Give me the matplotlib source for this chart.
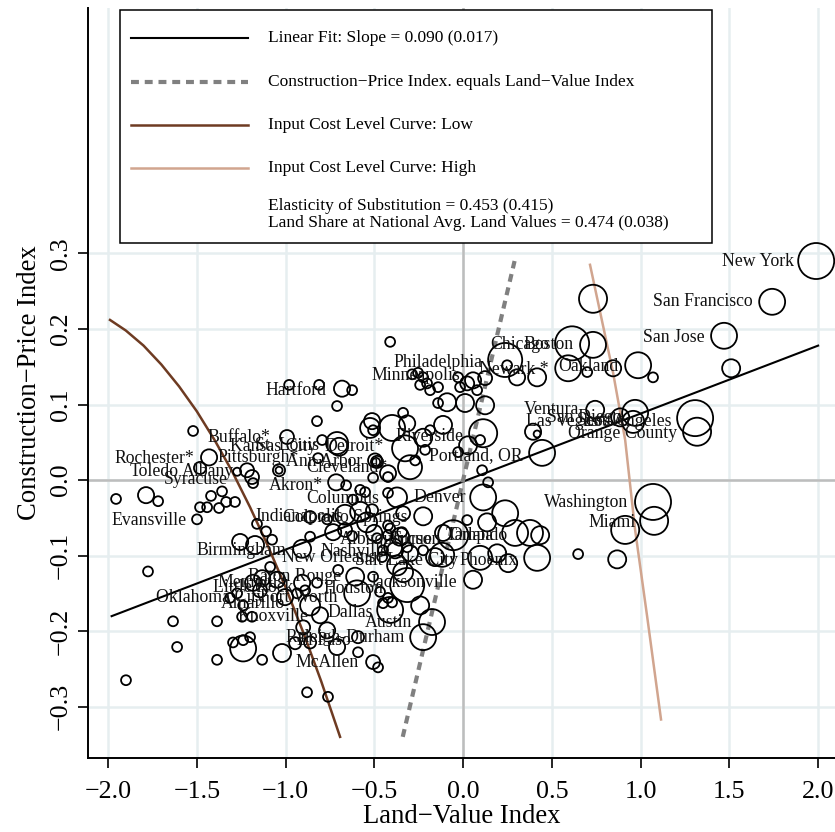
import matplotlib
matplotlib.use("Agg")
import matplotlib.pyplot as plt
import numpy as np
from matplotlib.patches import Rectangle
from matplotlib.lines import Line2D

plt.rcParams.update({
    "font.family": ["Liberation Serif", "DejaVu Serif"],
    "axes.unicode_minus": True,
})

LOW_C, HIGH_C, GRID_C, ZERO_C = "#6E3B22", "#D1A58F", "#E6EEF0", "#BDBDBD"

# ── metro areas: land-value index, construction-price index, population weight ──
land = [
    -1.955, -1.786, -1.718, -1.775, -1.634, -1.611, -1.899, -1.521, -1.499, -1.482,
    -1.482, -1.442, -1.420, -1.358, -1.335, -1.285, -1.375, -1.431, -1.386, -1.386,
    -1.273, -1.217, -1.189, -1.183, -1.037, -1.037, -0.992, -0.980, -0.811, -0.682,
    -0.625, -0.710, -0.823, -0.794, -0.710, -0.699, -0.513, -0.507, -0.715, -0.659,
    -0.496, -0.490, -0.507, -0.423, -0.620, -0.580, -0.552, -0.423, -0.372, -0.423,
    -0.862, -0.766, -0.665, -0.580, -0.513, -0.338, -0.862, -0.732, -0.665, -0.625,
    -0.541, -0.501, -0.423, -0.355, -0.411, -0.485, -0.344, -1.256, -1.172, -1.161,
    -1.110, -1.076, -0.907, -1.087, -1.183, -1.132, -1.048, -1.144, -1.273, -1.313,
    -1.239, -1.245, -1.189, -1.003, -0.935, -0.890, -0.907, -0.823, -0.862, -0.806,
    -0.901, -0.766, -0.704, -0.608, -1.296, -1.239, -1.200, -1.239, -1.132, -1.020,
    -0.946, -0.862, -0.710, -0.592, -0.592, -0.879, -0.761, -0.507, -0.479, -0.451,
    -0.394, -0.315, -0.372, -0.338, -0.507, -0.468, -0.451, -0.597, -0.423, -0.315,
    -0.400, -0.411, -0.242, -0.175, -0.225, -0.383, -0.299, -0.456, -0.225, -0.118,
    -0.056, 0.096, 0.056, 0.192, 0.254, 0.417, 0.434, 0.377, 0.293, 0.135,
    0.023, 0.237, 0.113, -0.225, -0.113, -0.158, -0.411, -0.287, -0.254, -0.225,
    -0.203, -0.242, -0.186, -0.141, -0.028, -0.017, 0.023, 0.056, 0.079, 0.124,
    0.237, 0.248, 0.304, 0.417, -0.141, -0.090, 0.011, 0.124, -0.338, -0.315,
    -0.400, -0.524, -0.186, -0.113, -0.225, -0.327, -0.214, -0.270, -0.299, -0.485,
    -0.423, 0.113, 0.096, 0.028, -0.028, 0.107, 0.141, 0.417, 0.445, 0.732,
    1.989, 1.741, 1.470, 1.510, 0.614, 0.732, 0.592, 0.699, 0.845, 0.986,
    1.070, 0.744, 0.885, 0.969, 0.958, 1.307, 1.318, 0.394, 1.070, 1.076,
    0.913, 0.648, 0.868, -0.817,
]
price = [
    -0.025, -0.020, -0.028, -0.121, -0.187, -0.221, -0.265, 0.065, -0.052, 0.016,
    -0.036, -0.036, -0.021, -0.015, -0.029, -0.029, -0.037, 0.030, -0.187, -0.238,
    0.011, 0.013, 0.004, -0.004, 0.013, 0.013, 0.057, 0.126, 0.126, 0.121,
    0.119, 0.098, 0.078, 0.053, 0.049, 0.044, 0.078, 0.066, -0.003, -0.007,
    0.026, 0.024, 0.003, 0.004, -0.026, -0.013, -0.016, -0.017, -0.023, -0.060,
    -0.049, -0.052, -0.046, -0.042, -0.040, -0.044, -0.075, -0.069, -0.066, -0.074,
    -0.056, -0.070, -0.073, -0.075, -0.064, -0.077, -0.069, -0.082, -0.086, -0.058,
    -0.068, -0.079, -0.091, -0.115, -0.136, -0.130, -0.132, -0.146, -0.150, -0.156,
    -0.166, -0.181, -0.181, -0.155, -0.150, -0.146, -0.136, -0.136, -0.166, -0.179,
    -0.195, -0.199, -0.119, -0.128, -0.215, -0.212, -0.208, -0.223, -0.238, -0.229,
    -0.216, -0.215, -0.221, -0.228, -0.208, -0.281, -0.287, -0.241, -0.248, -0.093,
    -0.089, -0.089, -0.113, -0.122, -0.128, -0.148, -0.163, -0.150, -0.156, -0.139,
    -0.162, -0.172, -0.166, -0.188, -0.208, -0.093, -0.097, -0.102, -0.093, -0.099,
    -0.073, -0.103, -0.132, -0.097, -0.110, -0.103, -0.073, -0.070, -0.070, -0.056,
    -0.053, -0.044, -0.023, -0.048, -0.070, -0.102, 0.183, 0.140, 0.142, 0.136,
    0.128, 0.126, 0.119, 0.123, 0.136, 0.123, 0.128, 0.132, 0.119, 0.135,
    0.159, 0.152, 0.136, 0.136, 0.102, 0.103, 0.102, 0.099, 0.089, 0.075,
    0.069, 0.069, 0.066, 0.073, 0.056, 0.042, 0.040, 0.026, 0.017, 0.024,
    0.009, 0.062, 0.053, 0.046, 0.037, 0.013, -0.003, 0.061, 0.036, 0.240,
    0.290, 0.236, 0.191, 0.148, 0.181, 0.179, 0.148, 0.143, 0.148, 0.152,
    0.136, 0.093, 0.083, 0.089, 0.077, 0.082, 0.064, 0.064, -0.029, -0.054,
    -0.066, -0.098, -0.105, 0.029,
]
pop = [
    1.2, 3.2, 1.2, 1.2, 1.2, 1.2, 1.2, 1.2, 1.2, 1.8,
    1.2, 1.2, 1.2, 1.2, 1.2, 1.2, 1.2, 3.2, 1.2, 1.2,
    0.8, 2.4, 2.4, 1.2, 1.8, 0.6, 2.4, 1.2, 1.2, 3.2,
    1.2, 1.2, 1.2, 1.2, 6.0, 4.0, 3.2, 1.2, 3.2, 1.2,
    2.4, 0.8, 1.2, 1.2, 1.2, 1.2, 1.2, 1.2, 4.9, 1.2,
    1.8, 1.2, 4.9, 4.9, 1.8, 2.4, 1.2, 3.2, 2.4, 1.2,
    4.9, 3.2, 1.2, 4.0, 1.2, 1.2, 1.2, 3.2, 4.0, 1.2,
    1.2, 1.2, 4.0, 1.2, 3.2, 3.2, 3.2, 2.4, 1.2, 1.2,
    1.2, 1.2, 1.2, 3.2, 1.2, 1.2, 3.2, 1.2, 4.9, 3.2,
    2.4, 3.2, 1.2, 4.0, 1.2, 1.2, 1.2, 8.3, 1.2, 4.0,
    1.8, 1.8, 3.2, 1.2, 1.8, 1.2, 1.2, 2.4, 1.2, 1.2,
    4.0, 1.2, 4.9, 4.9, 1.2, 1.2, 1.2, 8.3, 1.2, 14.3,
    1.2, 8.3, 4.0, 8.3, 8.3, 3.2, 3.2, 1.2, 1.2, 7.1,
    11.1, 7.1, 4.0, 4.0, 4.0, 8.3, 4.0, 8.3, 8.3, 4.0,
    1.2, 8.3, 8.3, 4.0, 3.2, 4.0, 1.2, 1.2, 1.2, 1.2,
    1.2, 1.2, 1.2, 1.2, 1.2, 1.2, 2.4, 3.2, 1.2, 2.4,
    14.3, 1.2, 3.2, 4.0, 1.2, 4.0, 4.0, 4.0, 1.2, 3.2,
    8.3, 4.9, 1.2, 4.0, 4.0, 8.3, 1.2, 1.2, 7.1, 1.8,
    3.2, 9.7, 1.2, 4.0, 1.2, 1.2, 1.2, 0.6, 8.3, 9.7,
    16.0, 8.3, 8.3, 4.0, 14.3, 8.3, 8.3, 1.2, 3.2, 8.3,
    1.2, 4.0, 4.0, 8.3, 6.0, 16.0, 9.7, 3.2, 16.0, 9.7,
    9.7, 1.2, 4.0, 1.2,
]

# ── labelled metro areas ──
lab_names = [
    "New York", "San Francisco", "San Jose", "Chicago", "Boston", "Philadelphia",
    "Newark *", "Oakland", "Minneapolis", "Hartford", "Ventura", "Las Vegas",
    "San Diego", "Seattle", "Los Angeles", "Orange County", "Riverside", "Portland, OR",
    "Buffalo*", "Kansas City", "St. Louis", "Detroit*", "Pittsburgh*", "Ann Arbor",
    "Cleveland*", "Rochester*", "Toledo", "Albany", "Syracuse", "Akron*",
    "Evansville", "Columbus", "Indianapolis", "Colorado Springs", "Denver", "Birmingham",
    "New Orleans", "Nashville", "Albuquerque", "Tucson", "Orlando", "Tampa",
    "Salt Lake City", "Phoenix", "Jacksonville", "Houston", "Baton Rouge", "Memphis",
    "Little Rock", "Fort Worth", "Oklahoma City", "Amarillo", "Knoxville", "Dallas",
    "Austin", "Raleigh-Durham", "El Paso", "McAllen", "Washington", "Miami",
]
lab_x = [
    1.972, 1.741, 1.470, 0.592, 0.732, 0.220,
    0.592, 0.986, 0.096, -0.659, 0.761, 0.873,
    1.003, 1.025, 1.285, 1.318, 0.113, 0.445,
    -0.975, -0.715, -0.704, -0.338, -0.817, -0.456,
    -0.315, -1.403, -1.493, -1.183, -1.217, -0.682,
    -1.448, -0.366, -0.569, -0.203, 0.124, -0.885,
    -0.383, -0.310, -0.062, -0.017, 0.361, 0.282,
    0.079, 0.417, 0.079, -0.338, -0.580, -0.896,
    -0.845, -0.597, -1.003, -0.896, -0.761, -0.400,
    -0.175, -0.220, -0.524, -0.479, 1.042, 1.082,
]
lab_y = [
    0.289, 0.236, 0.189, 0.179, 0.179, 0.156,
    0.146, 0.150, 0.138, 0.118, 0.093, 0.078,
    0.083, 0.079, 0.078, 0.062, 0.058, 0.032,
    0.056, 0.044, 0.046, 0.045, 0.030, 0.025,
    0.017, 0.028, 0.011, 0.011, 0.001, -0.007,
    -0.053, -0.025, -0.048, -0.049, -0.023, -0.093,
    -0.103, -0.095, -0.079, -0.079, -0.073, -0.073,
    -0.106, -0.106, -0.135, -0.143, -0.128, -0.135,
    -0.142, -0.155, -0.156, -0.163, -0.181, -0.175,
    -0.189, -0.209, -0.212, -0.241, -0.030, -0.056,
]

# ── fitted line and model curves ──
fit_slope, fit_icpt = 0.090, -0.002
fit_range = [-1.98, 2.0]
equal_range = [-0.34, 0.29]
low_x = [-1.989, -1.9, -1.8, -1.7, -1.6, -1.5, -1.4, -1.3, -1.2, -1.1, -1.0, -0.9, -0.8, -0.693]
low_y = [0.212, 0.198, 0.178, 0.153, 0.124, 0.091, 0.053, 0.011, -0.036, -0.087,
         -0.142, -0.202, -0.266, -0.340]
high_x = [0.715, 0.845, 0.913, 0.969, 1.037, 1.115]
high_y = [0.285, 0.142, 0.053, -0.066, -0.181, -0.317]

fig = plt.figure(figsize=(8.35, 8.32), dpi=100)
ax = fig.add_axes([88 / 835, 74 / 832, 747 / 835, 750 / 832])
ax.set_xlim(-2.113, 2.095)
ax.set_ylim(-0.368, 0.625)

xt = np.arange(-2.0, 2.01, 0.5)
yt = np.arange(-0.3, 0.31, 0.1)
for v in xt:
    ax.axvline(v, color=GRID_C, lw=1.8, zorder=0)
for v in yt:
    ax.axhline(v, color=GRID_C, lw=1.8, zorder=0)
ax.axvline(0, color=ZERO_C, lw=1.8, zorder=1)
ax.axhline(0, color=ZERO_C, lw=1.8, zorder=1)

fx = np.array(fit_range)
ax.plot(fx, fit_icpt + fit_slope * fx, color="black", lw=1.5, zorder=3)
ax.plot(equal_range, equal_range, color="#808080", lw=3.0,
        linestyle=(0, (1.9, 1.4)), dash_capstyle="butt", zorder=3)
ax.plot(low_x, low_y, color=LOW_C, lw=1.8, zorder=3)
ax.plot(high_x, high_y, color=HIGH_C, lw=1.8, zorder=3)

ax.scatter(land, price, s=42 * np.array(pop), facecolors="none",
           edgecolors="black", linewidths=1.3, zorder=4)

for name, x, y in zip(lab_names, lab_x, lab_y):
    ax.annotate(name, (x, y), xytext=(-14, 0), textcoords="offset points",
                ha="right", va="center", fontsize=12.8, color="#111111", zorder=5)

# axes styling (R-like L box)
for side in ("top", "right"):
    ax.spines[side].set_visible(False)
for side in ("left", "bottom"):
    ax.spines[side].set_linewidth(1.4)
ax.set_xticks(xt)
ax.set_xticklabels([f"{v:.1f}".replace("-", "\u2212") for v in np.round(xt, 1)], fontsize=18.7)
ax.set_yticks(yt)
ax.set_yticklabels([f"{v:.1f}".replace("-", "\u2212") for v in np.round(yt, 1) + 0.0],
                   fontsize=18.7, rotation=90, va="center")
ax.tick_params(axis="x", length=7.5, width=1.2, pad=9)
ax.tick_params(axis="y", length=7.5, width=1.2, pad=4)
ax.set_xlabel("Land\u2212Value Index", fontsize=19.2, labelpad=1)
ax.set_ylabel("Construction\u2212Price Index", fontsize=19.2, labelpad=6)

# legend box drawn by hand
T = ax.transAxes
ax.add_patch(Rectangle((0.0428, 0.6867), 0.7925, 0.3106, transform=T,
                       facecolor="white", edgecolor="black", lw=1.1, zorder=10))
hx0, hx1, tx = 0.0576, 0.2142, 0.2410
rows = [0.960, 0.9013, 0.844, 0.7867]
handles = [
    dict(color="black", lw=1.5),
    dict(color="#808080", lw=3.0, linestyle=(0, (1.9, 1.4)), dash_capstyle="butt"),
    dict(color=LOW_C, lw=1.8),
    dict(color=HIGH_C, lw=1.8),
]
texts = [
    "Linear Fit: Slope = 0.090 (0.017)",
    "Construction\u2212Price Index. equals Land\u2212Value Index",
    "Input Cost Level Curve: Low",
    "Input Cost Level Curve: High",
]
for yy, kw, txt in zip(rows, handles, texts):
    ax.add_line(Line2D([hx0, hx1], [yy, yy], transform=T, zorder=11, **kw))
    ax.text(tx, yy, txt, transform=T, fontsize=12.5, va="center", zorder=11)
ax.text(tx, 0.736, "Elasticity of Substitution = 0.453 (0.415)",
        transform=T, fontsize=12.5, va="center", zorder=11)
ax.text(tx, 0.7133, "Land Share at National Avg. Land Values = 0.474 (0.038)",
        transform=T, fontsize=12.5, va="center", zorder=11)

fig.savefig("out.png", dpi=100, facecolor="white")
